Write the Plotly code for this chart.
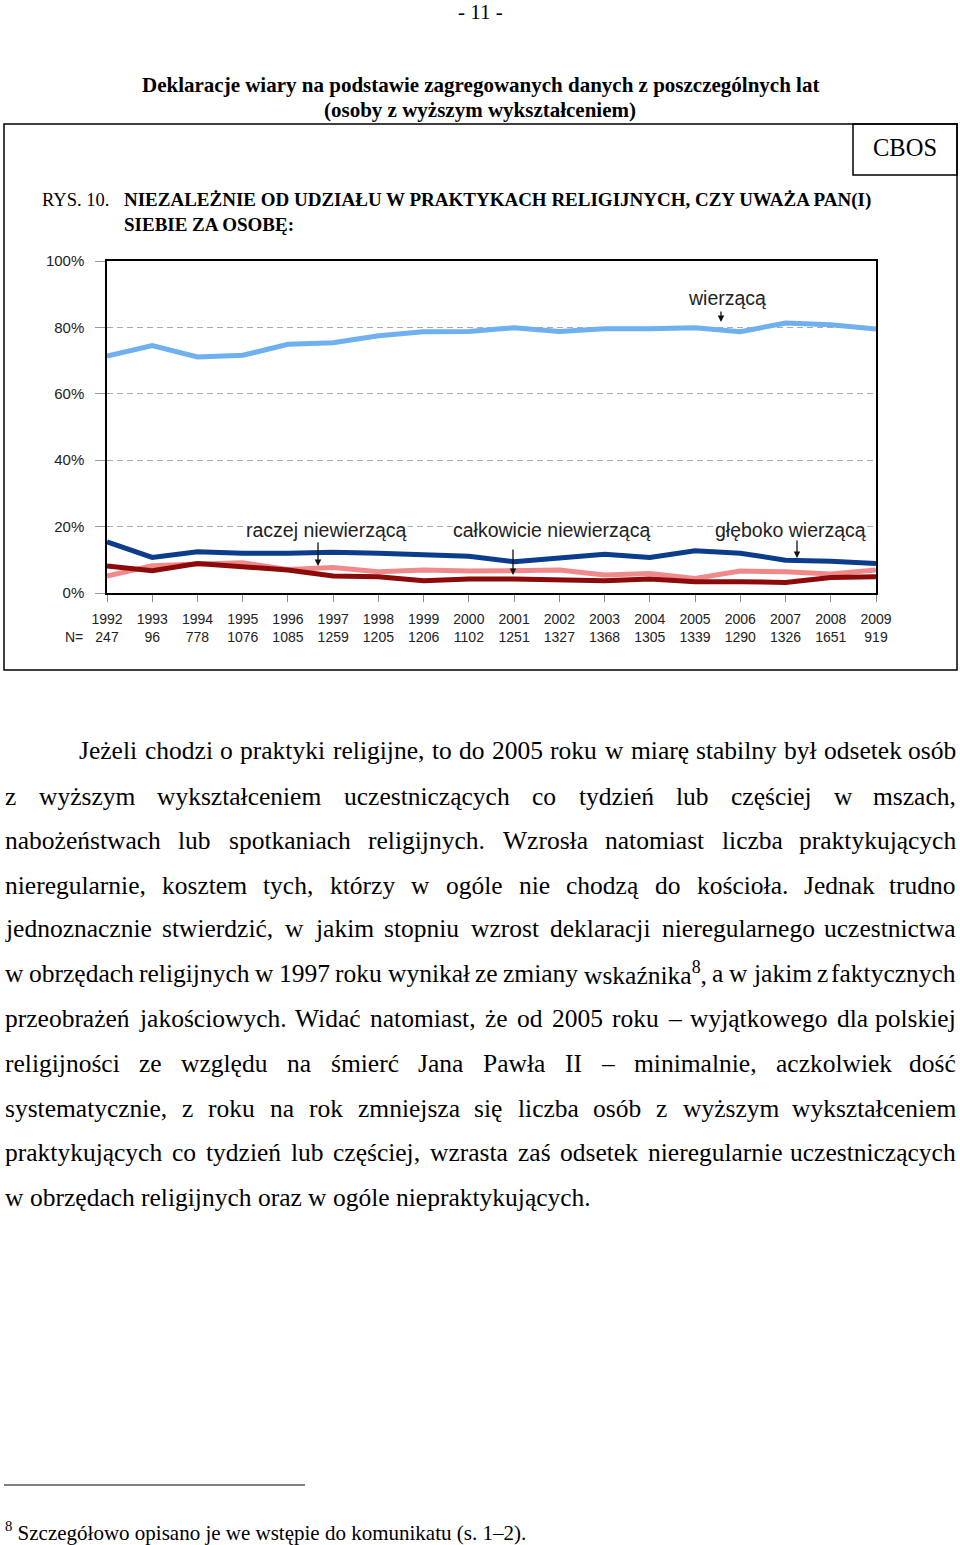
import plotly.graph_objects as go

# ---------------- data ----------------
years = [1992, 1993, 1994, 1995, 1996, 1997, 1998, 1999, 2000,
         2001, 2002, 2003, 2004, 2005, 2006, 2007, 2008, 2009]
n_values = [247, 96, 778, 1076, 1085, 1259, 1205, 1206, 1102,
            1251, 1327, 1368, 1305, 1339, 1290, 1326, 1651, 919]
wierzaca = [71.4, 74.5, 71.1, 71.6, 74.9, 75.4, 77.5, 78.7, 78.8,
            79.9, 78.8, 79.6, 79.6, 79.9, 78.7, 81.3, 80.8, 79.5]
gleboko = [15.4, 10.7, 12.4, 12.0, 12.0, 12.3, 12.0, 11.4, 11.1,
           9.4, 10.7, 11.7, 10.7, 12.7, 12.0, 9.9, 9.6, 8.9]
raczej = [5.1, 8.2, 8.7, 9.1, 7.1, 7.7, 6.4, 6.9, 6.6,
          6.9, 6.9, 5.4, 5.9, 4.4, 6.6, 6.4, 5.7, 6.9]
calkowicie = [8.1, 6.7, 8.9, 7.9, 6.9, 5.1, 4.9, 3.7, 4.2,
              4.2, 4.0, 3.7, 4.2, 3.4, 3.4, 3.2, 4.7, 4.9]
y_ticks = [0, 20, 40, 60, 80, 100]
y_tick_labels = ["0%", "20%", "40%", "60%", "80%", "100%"]

W, H = 960, 1545


def px(x):
    return x / W


def py(y):
    return 1 - y / H


fig = go.Figure()
series = [
    (raczej, "#f08a8a", "raczej niewierzącą"),
    (calkowicie, "#8c0a0a", "całkowicie niewierzącą"),
    (gleboko, "#0c3c8c", "głęboko wierzącą"),
    (wierzaca, "#6eb0f0", "wierzącą"),
]
for vals, col, name in series:
    fig.add_trace(go.Scatter(x=years, y=vals, mode="lines", name=name,
                             line=dict(color=col, width=5), showlegend=False))

fig.update_layout(
    template="none",
    width=W, height=H, autosize=False,
    margin=dict(l=0, r=0, t=0, b=0, pad=0),
    paper_bgcolor="white", plot_bgcolor="white",
    font=dict(family="Liberation Sans, Arial", color="#222"),
    xaxis=dict(
        domain=[px(107), px(876)], range=[1992, 2009], automargin=False,
        tickmode="array", tickvals=years,
        ticktext=[f"{y}<br>{n}" for y, n in zip(years, n_values)],
        tickfont=dict(size=14, family="Liberation Sans, Arial", color="#222"),
        ticks="outside", ticklen=7, tickcolor="#888", tickwidth=1,
        ticklabelstandoff=5,
        showline=True, linecolor="black", linewidth=1.5, mirror=True,
        showgrid=False, zeroline=False, fixedrange=True,
    ),
    yaxis=dict(
        domain=[py(593), py(261)], range=[0, 100], automargin=False,
        tickmode="array", tickvals=y_ticks, ticktext=y_tick_labels,
        tickfont=dict(size=15, family="Liberation Sans, Arial", color="#222"),
        ticks="outside", ticklen=10, tickcolor="#999", tickwidth=1,
        ticklabelstandoff=8,
        showline=True, linecolor="black", linewidth=1.5, mirror=True,
        showgrid=True, gridcolor="#aaa", gridwidth=1, griddash="6px,4px",
        zeroline=False, fixedrange=True,
    ),
)

ann = []
shapes = []


def year_x(p):
    return 1992 + (p - 107) / (876 - 107) * 17


def pct_y(p):
    return (593 - p) / 332 * 100


labels = [("wierzącą", 727, 298), ("raczej niewierzącą", 326, 530),
          ("całkowicie niewierzącą", 551, 530), ("głęboko wierzącą", 790, 530)]
for t, x, y in labels:
    ann.append(dict(text=t, x=year_x(x), y=pct_y(y), xref="x", yref="y",
                    showarrow=False, bgcolor="white", borderpad=0,
                    font=dict(size=19.5, family="Liberation Sans, Arial", color="#222")))
arrows = [(721, 310, 322), (318, 541, 566), (513, 548, 575), (797, 539, 558)]
for x, y0, y1 in arrows:
    ann.append(dict(text="", x=year_x(x), y=pct_y(y1), ax=year_x(x), ay=pct_y(y0),
                    xref="x", yref="y", axref="x", ayref="y",
                    showarrow=True, arrowhead=2, arrowsize=1, arrowwidth=1.3,
                    arrowcolor="#111"))

ann.append(dict(text="N=", x=px(85), y=py(637), xref="paper", yref="paper",
                xanchor="right", showarrow=False,
                font=dict(size=14, family="Liberation Sans, Arial", color="#222")))

serif = "Liberation Serif, Times New Roman"


def text(t, x, y, size, anchor="center", bold=False):
    ann.append(dict(text=f"<b>{t}</b>" if bold else t, x=px(x), y=py(y),
                    xref="paper", yref="paper", xanchor=anchor, yanchor="middle",
                    showarrow=False, borderpad=0,
                    font=dict(size=size, family=serif, color="black")))


text("- 11 -", 480, 12, 21)
text("Deklaracje wiary na podstawie zagregowanych danych z poszczególnych lat", 480, 85, 21, bold=True)
text("(osoby z wyższym wykształceniem)", 480, 110, 21, bold=True)
text("CBOS", 905, 148, 24.5)
text("RYS. 10.", 41, 200, 18.5, anchor="left")
text("NIEZALEŻNIE OD UDZIAŁU W PRAKTYKACH RELIGIJNYCH, CZY UWAŻA PAN(I)", 123, 200, 19.0, anchor="left", bold=True)
text("SIEBIE ZA OSOBĘ:", 123, 224, 19.0, anchor="left", bold=True)

shapes.append(dict(type="rect", xref="paper", yref="paper", x0=px(4), x1=px(957),
                   y0=py(670), y1=py(124), line=dict(color="black", width=1.5)))
shapes.append(dict(type="rect", xref="paper", yref="paper", x0=px(853), x1=px(957),
                   y0=py(175), y1=py(124), line=dict(color="black", width=1.5)))
shapes.append(dict(type="line", xref="paper", yref="paper", x0=px(4), x1=px(305),
                   y0=py(1485), y1=py(1485), line=dict(color="black", width=1)))

CW = {' ': 250, 'a': 444, 'b': 500, 'c': 444, 'd': 500, 'e': 444, 'f': 333, 'g': 500,
      'h': 500, 'i': 278, 'j': 278, 'k': 500, 'l': 278, 'm': 778, 'n': 500, 'o': 500,
      'p': 500, 'q': 500, 'r': 333, 's': 389, 't': 278, 'u': 500, 'v': 500, 'w': 722,
      'x': 500, 'y': 500, 'z': 444, 'A': 722, 'B': 667, 'C': 667, 'D': 722, 'E': 611,
      'F': 556, 'G': 722, 'H': 722, 'I': 333, 'J': 389, 'K': 722, 'L': 611, 'M': 889,
      'N': 722, 'O': 722, 'P': 556, 'Q': 722, 'R': 667, 'S': 556, 'T': 611, 'U': 722,
      'V': 722, 'W': 944, 'X': 722, 'Y': 722, 'Z': 611, ',': 250, '.': 250, '(': 333,
      ')': 333, '–': 500, '-': 333, ':': 278, 'ł': 278}
MAPC = {'ą': 'a', 'ę': 'e', 'ó': 'o', 'ś': 's', 'ć': 'c', 'ń': 'n', 'ź': 'z', 'ż': 'z',
        'Ż': 'Z', 'Ł': 'L', 'Ś': 'S'}


def tw(s, size):
    return sum(CW.get(MAPC.get(ch, ch), 500) for ch in s) / 1000 * size


BODY = 25.5
body_lines = [
    ("Jeżeli chodzi o praktyki religijne, to do 2005 roku w miarę stabilny był odsetek osób", 750, 78, True),
    ("z wyższym wykształceniem uczestniczących co tydzień lub częściej w mszach,", 796, 4, True),
    ("nabożeństwach lub spotkaniach religijnych. Wzrosła natomiast liczba praktykujących", 840, 4, True),
    ("nieregularnie, kosztem tych, którzy w ogóle nie chodzą do kościoła. Jednak trudno", 885, 4, True),
    ("jednoznacznie stwierdzić, w jakim stopniu wzrost deklaracji nieregularnego uczestnictwa", 929, 4, True),
    ("w obrzędach religijnych w 1997 roku wynikał ze zmiany wskaźnika^8, a w jakim z faktycznych", 974, 4, True),
    ("przeobrażeń jakościowych. Widać natomiast, że od 2005 roku – wyjątkowego dla polskiej", 1018, 4, True),
    ("religijności ze względu na śmierć Jana Pawła II – minimalnie, aczkolwiek dość", 1063, 4, True),
    ("systematycznie, z roku na rok zmniejsza się liczba osób z wyższym wykształceniem", 1108, 4, True),
    ("praktykujących co tydzień lub częściej, wzrasta zaś odsetek nieregularnie uczestniczących", 1152, 4, True),
    ("w obrzędach religijnych oraz w ogóle niepraktykujących.", 1197, 4, False),
]
for line, y, x0, just in body_lines:
    words = line.split(" ")
    items = []
    for w in words:
        if "^8" in w:
            a, b = w.split("^8")
            items.append((f"{a}<sup>8</sup>{b}", tw(a + b, BODY) + 0.5 * 0.7 * BODY))
        else:
            items.append((w, tw(w, BODY)))
    total = sum(i[1] for i in items)
    gap = (957 - x0 - total) / (len(items) - 1) if just else 0.25 * BODY
    x = x0
    for k, (t, wd) in enumerate(items):
        if just and k == len(items) - 1:
            text(t, 957, y, BODY, anchor="right")
        else:
            text(t, x, y, BODY, anchor="left")
        x += wd + gap

text("<sup>8</sup> Szczegółowo opisano je we wstępie do komunikatu (s. 1–2).", 4, 1531, 21, anchor="left")

fig.update_layout(annotations=ann, shapes=shapes)
fig.write_html("out.html", config={"displayModeBar": False},
               post_script="document.body.style.margin='0';document.body.style.padding='0';document.body.style.overflow='hidden';")
